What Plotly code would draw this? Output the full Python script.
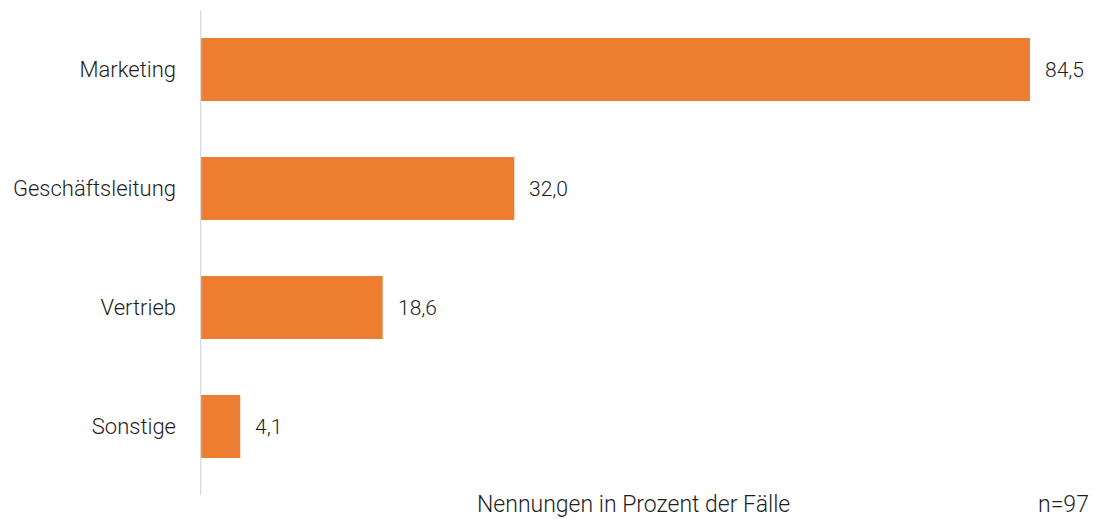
import plotly.graph_objects as go

# data
categories = ["Marketing", "Geschäftsleitung", "Vertrieb", "Sonstige"]
values = [84.5, 32.0, 18.6, 4.1]
value_labels = [f"{v:.1f}".replace(".", ",") for v in values]
axis_title = "Nennungen in Prozent der Fälle"
sample_note = "n=97"

bar_color = "#ED7D31"
text_color = "#1E1E1E"
font_family = "Roboto, 'Open Sans', sans-serif"

fig = go.Figure()

fig.add_trace(go.Bar(
    x=values,
    y=categories,
    orientation="h",
    marker=dict(color=bar_color, line=dict(width=0)),
    hoverinfo="skip",
))

# value labels right of the bars
for cat, v, lbl in zip(categories, values, value_labels):
    fig.add_annotation(x=v, y=cat, text=lbl, showarrow=False,
                       xanchor="left", xshift=13,
                       font=dict(size=21, color=text_color, family=font_family, weight=300))

fig.add_annotation(x=0.5, y=-0.038, xref="paper", yref="paper", text=axis_title,
                   showarrow=False, xanchor="center", yanchor="middle",
                   font=dict(size=23, color=text_color, family=font_family, weight=300))
fig.add_annotation(x=1.029, y=-0.038, xref="paper", yref="paper", text=sample_note,
                   showarrow=False, xanchor="right", yanchor="middle",
                   font=dict(size=23, color=text_color, family=font_family, weight=300))

# vertical category axis line (runs a bit below the last bar slot)
fig.add_shape(type="line", xref="x", yref="paper", x0=0, x1=0, y0=-0.019, y1=1,
              line=dict(color="#D9D9D9", width=2.5), layer="above")

fig.update_layout(
    width=1089, height=511,
    margin=dict(l=192, r=31, t=2, b=33),
    paper_bgcolor="white", plot_bgcolor="white",
    bargap=0.47,
    showlegend=False,
    font=dict(family=font_family, color=text_color),
    xaxis=dict(range=[0, 88.17], visible=False, fixedrange=True),
    yaxis=dict(
        autorange="reversed",
        showline=False,
        showgrid=False, zeroline=False,
        ticks="", ticklabelstandoff=23,
        tickfont=dict(size=22, color=text_color, family=font_family, weight=300),
        fixedrange=True,
    ),
)

fig.write_html("out.html")
